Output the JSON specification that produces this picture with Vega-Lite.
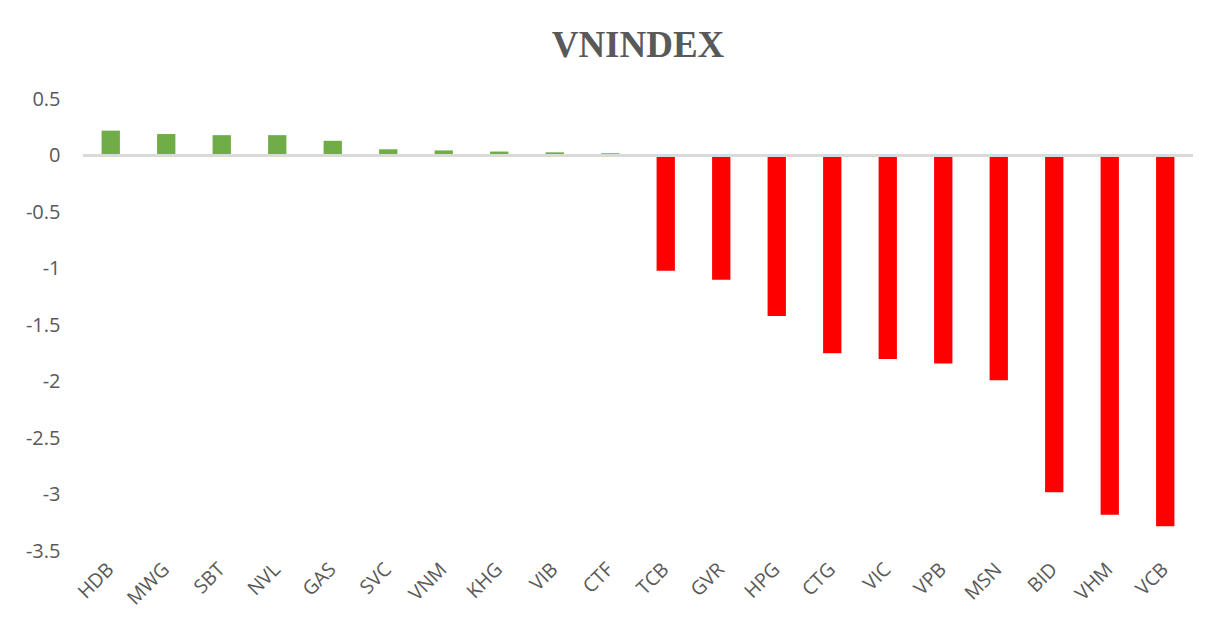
{
  "$schema": "https://vega.github.io/schema/vega-lite/v6.json",
  "width": 1110,
  "height": 452,
  "autosize": "none",
  "padding": {"left": 83, "top": 99, "right": 27, "bottom": 81},
  "background": "white",
  "config": {"view": {"stroke": null}},
  "title": {
    "text": "VNINDEX",
    "font": "Liberation Serif",
    "fontSize": 37,
    "fontWeight": "bold",
    "color": "#595959",
    "anchor": "middle",
    "offset": 24
  },
  "data": {
    "values": [
      {"code": "HDB", "value": 0.22},
      {"code": "MWG", "value": 0.19},
      {"code": "SBT", "value": 0.18},
      {"code": "NVL", "value": 0.18},
      {"code": "GAS", "value": 0.13},
      {"code": "SVC", "value": 0.055},
      {"code": "VNM", "value": 0.045},
      {"code": "KHG", "value": 0.035},
      {"code": "VIB", "value": 0.028},
      {"code": "CTF", "value": 0.02},
      {"code": "TCB", "value": -1.02},
      {"code": "GVR", "value": -1.1},
      {"code": "HPG", "value": -1.42},
      {"code": "CTG", "value": -1.75},
      {"code": "VIC", "value": -1.8},
      {"code": "VPB", "value": -1.84},
      {"code": "MSN", "value": -1.99},
      {"code": "BID", "value": -2.98},
      {"code": "VHM", "value": -3.18},
      {"code": "VCB", "value": -3.28}
    ]
  },
  "layer": [
    {
      "mark": {"type": "bar"},
      "encoding": {
        "x": {
          "field": "code",
          "type": "nominal",
          "sort": null,
          "scale": {"paddingInner": 0.67, "paddingOuter": 0.335},
          "axis": {
            "title": null,
            "domain": false,
            "ticks": false,
            "labelAngle": -45,
            "labelFont": "Open Sans",
            "labelFontSize": 19.5,
            "labelColor": "#595959",
            "labelPadding": 15,
            "labelAlign": "right",
            "labelBaseline": "middle"
          }
        },
        "y": {
          "field": "value",
          "type": "quantitative",
          "scale": {"domain": [-3.5, 0.5], "nice": false, "zero": true},
          "axis": {
            "title": null,
            "domain": false,
            "ticks": false,
            "grid": false,
            "values": [0.5, 0, -0.5, -1, -1.5, -2, -2.5, -3, -3.5],
            "labelExpr": "datum.value + ''",
            "labelFont": "Open Sans",
            "labelFontSize": 20,
            "labelColor": "#595959",
            "labelPadding": 23
          }
        },
        "color": {
          "condition": {"test": "datum.value >= 0", "value": "#70AD47"},
          "value": "#FF0000"
        }
      }
    },
    {
      "mark": {"type": "rule", "color": "#D9D9D9", "strokeWidth": 2},
      "encoding": {"y": {"datum": 0}}
    }
  ]
}
